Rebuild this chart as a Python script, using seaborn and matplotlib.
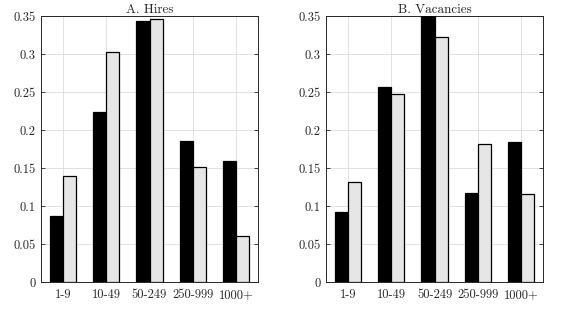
import matplotlib
matplotlib.use("Agg")
import matplotlib.pyplot as plt
import seaborn as sns
import pandas as pd

categories = ["1-9", "10-49", "50-249", "250-999", "1000+"]
hires_black = [0.087, 0.224, 0.343, 0.186, 0.159]
hires_gray = [0.1395, 0.302, 0.346, 0.151, 0.060]
vac_black = [0.0925, 0.257, 0.350, 0.1175, 0.184]
vac_gray = [0.131, 0.247, 0.323, 0.182, 0.116]
yticks = [0, 0.05, 0.1, 0.15, 0.2, 0.25, 0.3, 0.35]
ytick_labels = ["0", "0.05", "0.1", "0.15", "0.2", "0.25", "0.3", "0.35"]
titles = ["A. Hires", "B. Vacancies"]

sns.set_theme(style="white")
plt.rcParams["font.family"] = ["cmr10", "DejaVu Serif"]
plt.rcParams["axes.unicode_minus"] = False
plt.rcParams["axes.formatter.use_mathtext"] = True


def make_df(black, gray):
    rows = []
    for c, b, g in zip(categories, black, gray):
        rows.append({"size": c, "series": "s1", "value": b})
        rows.append({"size": c, "series": "s2", "value": g})
    return pd.DataFrame(rows)


fig = plt.figure(figsize=(5.62, 3.30), dpi=100)
W, H = 562, 330
ax_boxes = [(41, 16, 258, 282), (326, 16, 543, 282)]
datasets = [(hires_black, hires_gray), (vac_black, vac_gray)]

for (x0, y0, x1, y1), (blk, gry), title in zip(ax_boxes, datasets, titles):
    ax = fig.add_axes([x0 / W, 1 - y1 / H, (x1 - x0) / W, (y1 - y0) / H])
    df = make_df(blk, gry)
    sns.barplot(data=df, x="size", y="value", hue="series", order=categories,
                hue_order=["s1", "s2"],
                palette={"s1": "black", "s2": "#e6e6e6"},
                width=0.6, gap=0, edgecolor="black", linewidth=0.9,
                errorbar=None, legend=False, ax=ax, zorder=3)
    ax.set_xlim(-0.5, 4.5)
    ax.set_ylim(0, 0.35)
    ax.set_yticks(yticks)
    ax.set_yticklabels(ytick_labels)
    ax.set_xlabel("")
    ax.set_ylabel("")
    ax.set_title(title, fontsize=9.5, pad=2)
    ax.grid(True, color="#dcdcdc", linewidth=0.6, zorder=0)
    ax.set_axisbelow(True)
    ax.tick_params(direction="in", length=3, width=0.6, labelsize=9,
                   top=False, right=True, bottom=True, left=True,
                   colors="#262626", labelcolor="#262626")
    ax.tick_params(axis="x", pad=5)
    ax.tick_params(axis="y", pad=4)
    for s in ax.spines.values():
        s.set_visible(True)
        s.set_color("#262626")
        s.set_linewidth(0.7)

fig.savefig("out.png", dpi=100)
